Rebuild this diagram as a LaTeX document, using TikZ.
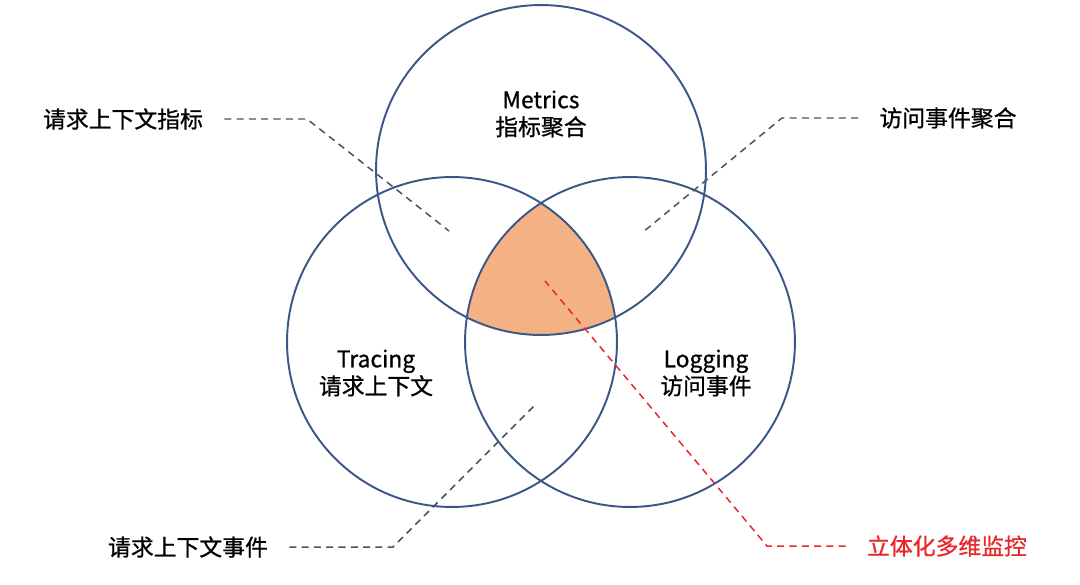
\documentclass[tikz,border=0pt]{standalone}
\usepackage{fontspec}
\setmainfont{Noto Sans CJK SC}[AutoFakeBold=0.8]
\usepackage{tikz}

\definecolor{ringblue}{HTML}{3B5687}
\definecolor{leadgrey}{HTML}{44546A}
\definecolor{coreorange}{HTML}{F4B183}
\definecolor{markred}{HTML}{E8272A}

\begin{document}
\begin{tikzpicture}[x=0.02cm,y=-0.02cm,
    ring/.style={circle,draw=ringblue,line width=1.1pt,minimum size=6.6cm,inner sep=0pt},
    tag/.style={font=\fontsize{13pt}{15.5pt}\selectfont\bfseries,align=center},
    side/.style={tag,inner xsep=0.42cm},
    lead/.style={draw=leadgrey,line width=0.85pt,dash pattern=on 4pt off 3pt},
    redlead/.style={draw=markred,line width=0.85pt,dash pattern=on 4pt off 3pt}]

        \useasboundingbox (0,0) rectangle (1080,585);

        % Shade the part shared by all three circles
        \begin{scope}
            \clip (541,170) circle (3.3cm);
            \clip (452,342) circle (3.3cm);
            \fill[coreorange] (630,342) circle (3.3cm);
        \end{scope}

        % The three circles
        \node[ring] (metrics) at (541,170) {};
        \node[ring] (tracing) at (452,342) {};
        \node[ring] (logging) at (630,342) {};

        % Titles inside the circles
        \node[tag] (mtitle) at (541,114) {Metrics\\指标聚合};
        \node[tag] (ttitle) at (376,373) {Tracing\\请求上下文};
        \node[tag] (ltitle) at (706,373) {Logging\\访问事件};

        % Side labels
        \node[side] (ctxmetric) at (123,119) {请求上下文指标};
        \node[side] (eventagg) at (948,118) {访问事件聚合};
        \node[side] (ctxevent) at (188,547) {请求上下文事件};
        \node[side,text=markred] (multidim) at (947,546) {立体化多维监控};

        % Bends and ends of the leader lines
        \coordinate (k1) at (307,119);  % top left bend
        \coordinate (p1) at (449,231);
        \coordinate (k2) at (782,118);  % top right bend
        \coordinate (p2) at (643,232);
        \coordinate (k3) at (393,547);  % bottom left bend
        \coordinate (p3) at (537,403);
        \coordinate (k4) at (767,546);  % bottom right bend
        \coordinate (p4) at (545,281);

        % Leader lines
        \draw[lead] (ctxmetric.east) -- (k1) -- (p1);
        \draw[lead] (eventagg.west) -- (k2) -- (p2);
        \draw[lead] (ctxevent.east) -- (k3) -- (p3);
        \draw[redlead] (multidim.west) -- (k4) -- (p4);

    \end{tikzpicture}
\end{document}
